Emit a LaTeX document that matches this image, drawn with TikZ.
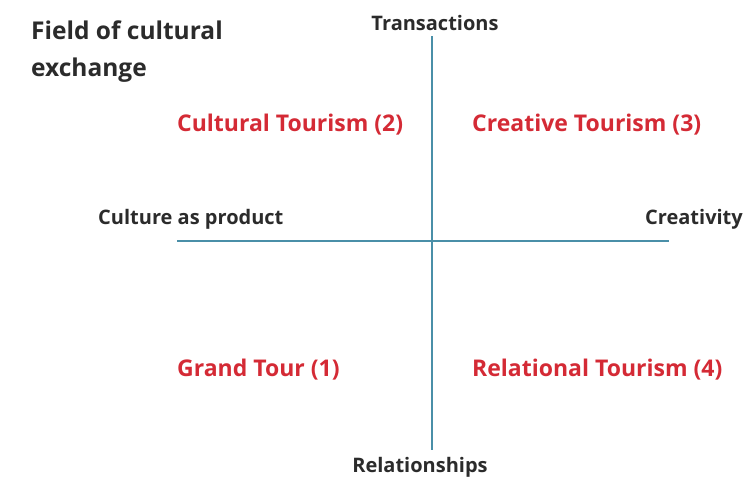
\documentclass[tikz,border=0pt]{standalone}
\usepackage{fontspec}
\setmainfont{Open Sans}
\usepackage{tikz}
\usetikzlibrary{positioning}

\definecolor{axisblue}{HTML}{4A8FA8}
\definecolor{quadred}{HTML}{D42A35}
\definecolor{inkgray}{HTML}{2B2B2B}

\begin{document}
\begin{tikzpicture}[x=1pt, y=-1pt,
    every node/.style={inner sep=0pt, text=inkgray},
    axislabel/.style={font=\fontsize{20}{22}\selectfont\bfseries},
    quadlabel/.style={anchor=west, text=quadred, font=\fontsize{23}{26}\selectfont\bfseries},
    axisline/.style={axisblue, line width=2.6pt}]
  % fixed frame
  \useasboundingbox (0,0) rectangle (748,477);
  % title
  \node[anchor=north west, align=left, font=\fontsize{24.5}{37}\selectfont\bfseries]
    (title) at (31,21) {Field of cultural\\exchange};
  % axis ends
  \coordinate (top) at (432,36);
  \coordinate (bottom) at (432,450);
  \coordinate (left) at (177,241);
  \coordinate (right) at (669,241);
  \draw[axisline] (top) -- (bottom);
  \draw[axisline] (left) -- (right);
  % axis labels
  \node[axislabel] (trans) at (435,23) {Transactions};
  \node[axislabel] (rel) at (420,467) {Relationships};
  \node[axislabel, anchor=west] (prod) at (98,219) {Culture as product};
  \node[axislabel, anchor=east] (crea) at (743,219) {Creativity};
  % quadrants
  \node[quadlabel] (q2) at (177,125) {Cultural Tourism (2)};
  \node[quadlabel] (q3) at (472,125) {Creative Tourism (3)};
  \node[quadlabel] (q1) at (177,370) {Grand Tour (1)};
  \node[quadlabel] (q4) at (472,370) {Relational Tourism (4)};
\end{tikzpicture}
\end{document}
